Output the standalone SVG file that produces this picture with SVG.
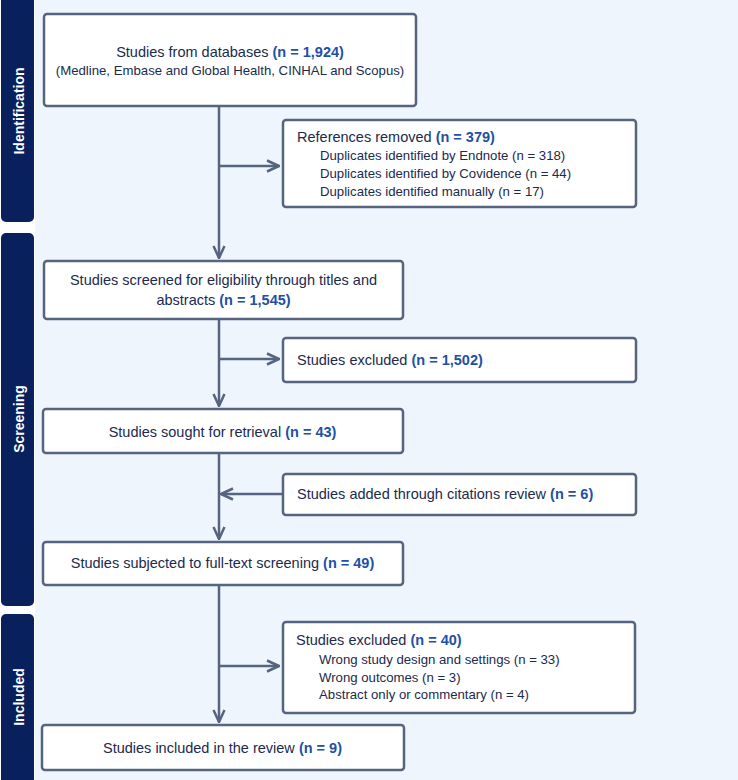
<svg xmlns="http://www.w3.org/2000/svg" width="738" height="780" viewBox="0 0 738 780">
<defs>
<style>
.bg{fill:#eef5fd}
.band{fill:#08205c}
.bl{font-family:"Liberation Sans",Arial,sans-serif;font-weight:bold;font-size:14px;fill:#ffffff;text-anchor:middle}
.box{fill:#ffffff;stroke:#56647f;stroke-width:2.5}
.t{font-family:"Liberation Sans",Arial,sans-serif;font-size:14.5px;fill:#1b2a4e}
.s{font-family:"Liberation Sans",Arial,sans-serif;font-size:13.2px;fill:#1b2a4e}
.c{text-anchor:middle}
.b{font-weight:bold;fill:#2150a6}
.ln{fill:none;stroke:#56647f;stroke-width:2.5}
</style>
<marker id="ah" viewBox="0 0 14 14" refX="13" refY="7" markerWidth="14" markerHeight="14" markerUnits="userSpaceOnUse" orient="auto">
<path d="M1,1.5 L13,7 L1,12.5" fill="none" stroke="#56647f" stroke-width="2.5"/>
</marker>
</defs>
<rect x="0" y="0" width="738" height="780" fill="#ffffff"/>
<rect class="bg" x="35" y="0" width="703" height="780"/>
<g id="band-identification">
<rect class="band" x="1" y="-8" width="33" height="230" rx="5"/>
<text class="bl" transform="translate(24,111) rotate(-90)">Identification</text>
</g>
<g id="band-screening">
<rect class="band" x="1" y="233" width="33" height="373" rx="5"/>
<text class="bl" transform="translate(24,419) rotate(-90)">Screening</text>
</g>
<g id="band-included">
<rect class="band" x="1" y="614" width="33" height="180" rx="5"/>
<text class="bl" transform="translate(24,697) rotate(-90)">Included</text>
</g>
<g id="connectors">
<line class="ln" x1="219" y1="106" x2="219" y2="258" marker-end="url(#ah)"/>
<line class="ln" x1="219" y1="166" x2="279" y2="166" marker-end="url(#ah)"/>
<line class="ln" x1="219" y1="319" x2="219" y2="406" marker-end="url(#ah)"/>
<line class="ln" x1="219" y1="359" x2="279" y2="359" marker-end="url(#ah)"/>
<line class="ln" x1="219" y1="453" x2="219" y2="539" marker-end="url(#ah)"/>
<line class="ln" x1="283" y1="494" x2="221" y2="494" marker-end="url(#ah)"/>
<line class="ln" x1="219" y1="585" x2="219" y2="722" marker-end="url(#ah)"/>
<line class="ln" x1="219" y1="666" x2="279" y2="666" marker-end="url(#ah)"/>
</g>
<g id="n-databases">
<rect class="box" x="44" y="14" width="372" height="92" rx="3"/>
<text class="t c" x="230" y="57">Studies from databases <tspan class="b">(n = 1,924)</tspan></text>
<text class="s c" x="230" y="75">(Medline, Embase and Global Health, CINHAL and Scopus)</text>
</g>
<g id="n-removed">
<rect class="box" x="283" y="120" width="353" height="87" rx="3"/>
<text class="t" x="297" y="142">References removed <tspan class="b">(n = 379)</tspan></text>
<text class="s" x="320" y="160">Duplicates identified by Endnote (n = 318)</text>
<text class="s" x="320" y="178">Duplicates identified by Covidence (n = 44)</text>
<text class="s" x="320" y="196">Duplicates identified manually (n = 17)</text>
</g>
<g id="n-screened">
<rect class="box" x="44" y="261" width="359" height="58" rx="3"/>
<text class="t c" x="223.5" y="285">Studies screened for eligibility through titles and</text>
<text class="t c" x="223.5" y="305">abstracts <tspan class="b">(n = 1,545)</tspan></text>
</g>
<g id="n-excluded1">
<rect class="box" x="283" y="338" width="353" height="44" rx="3"/>
<text class="t" x="297" y="365">Studies excluded <tspan class="b">(n = 1,502)</tspan></text>
</g>
<g id="n-sought">
<rect class="box" x="43" y="409" width="360" height="44" rx="3"/>
<text class="t c" x="222.5" y="437">Studies sought for retrieval <tspan class="b">(n = 43)</tspan></text>
</g>
<g id="n-added">
<rect class="box" x="283" y="474" width="353" height="41" rx="3"/>
<text class="t" x="297" y="499">Studies added through citations review <tspan class="b">(n = 6)</tspan></text>
</g>
<g id="n-fulltext">
<rect class="box" x="43" y="542" width="360" height="43" rx="3"/>
<text class="t c" x="222.5" y="568">Studies subjected to full-text screening <tspan class="b">(n = 49)</tspan></text>
</g>
<g id="n-excluded2">
<rect class="box" x="283" y="622" width="352" height="91" rx="3"/>
<text class="t" x="296" y="645">Studies excluded <tspan class="b">(n = 40)</tspan></text>
<text class="s" x="319" y="664">Wrong study design and settings (n = 33)</text>
<text class="s" x="319" y="682">Wrong outcomes (n = 3)</text>
<text class="s" x="319" y="699">Abstract only or commentary (n = 4)</text>
</g>
<g id="n-included">
<rect class="box" x="42" y="725" width="362" height="45" rx="3"/>
<text class="t c" x="222.5" y="753">Studies included in the review <tspan class="b">(n = 9)</tspan></text>
</g>
</svg>
